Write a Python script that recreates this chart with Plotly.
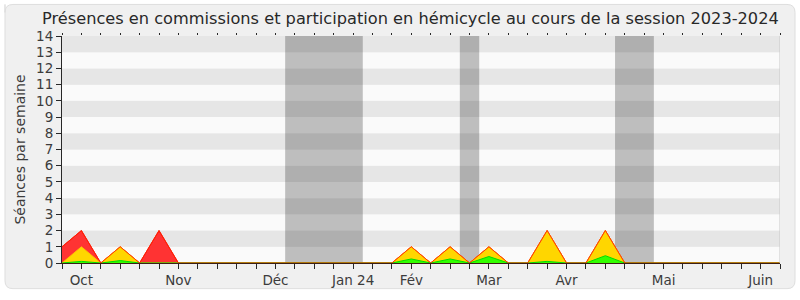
import plotly.graph_objects as go

# Weekly series, one value per week of the session (index 0 = last week of September 2023)
weeks = list(range(38))
commission = [1, 2, 0, 1, 0, 2, 0, 0, 0, 0, 0, 0, 0, 0, 0, 0, 0, 0, 1, 0,
              1, 0, 1, 0, 0, 2, 0, 0, 2, 0, 0, 0, 0, 0, 0, 0, 0, 0]
hemicycle = [0, 1, 0, 1, 0, 0, 0, 0, 0, 0, 0, 0, 0, 0, 0, 0, 0, 0, 1, 0,
             1, 0, 1, 0, 0, 2, 0, 0, 2, 0, 0, 0, 0, 0, 0, 0, 0, 0]
interventions = [0, 0.1, 0, 0.15, 0, 0, 0, 0, 0, 0, 0, 0, 0, 0, 0, 0, 0, 0, 0.25, 0,
                 0.25, 0, 0.4, 0, 0, 0.1, 0, 0, 0.45, 0, 0, 0, 0, 0, 0, 0, 0, 0]

# Month labels placed on the week they start
month_weeks = [1, 6, 11, 15, 18, 22, 26, 31, 36]
month_names = ["Oct", "Nov", "Déc", "Jan 24", "Fév", "Mar", "Avr", "Mai", "Juin"]

# Parliamentary recesses (week index ranges)
recesses = [(11.5, 15.5), (20.5, 21.5), (28.5, 30.5)]

y_max = 14
font_family = "DejaVu Sans, sans-serif"

fig = go.Figure()

fig.add_trace(go.Scatter(
    x=weeks, y=commission, mode="lines", fill="tozeroy",
    fillcolor="rgb(255,51,51)", line=dict(color="rgb(255,0,0)", width=1),
    hoverinfo="skip", showlegend=False))
fig.add_trace(go.Scatter(
    x=weeks, y=hemicycle, mode="lines", fill="tozeroy",
    fillcolor="rgb(255,214,0)", line=dict(color="rgb(255,190,0)", width=1),
    hoverinfo="skip", showlegend=False))
fig.add_trace(go.Scatter(
    x=weeks, y=interventions, mode="lines", fill="tozeroy",
    fillcolor="rgb(51,255,0)", line=dict(color="rgb(0,220,0)", width=1),
    hoverinfo="skip", showlegend=False))
# outline of the commission series drawn over the other fills
fig.add_trace(go.Scatter(
    x=weeks, y=commission, mode="lines",
    line=dict(color="rgba(255,40,0,0.85)", width=1),
    hoverinfo="skip", showlegend=False))

shapes = []
# rounded frame around the whole chart (paper coordinates extend past the plot area)
fx0, fx1, fy0, fy1 = -0.0794, 1.0209, -0.113, 1.139
rx, ry = 0.0111, 0.0348
shapes.append(dict(
    type="path", xref="paper", yref="paper", layer="below",
    path=(f"M {fx0},{fy1} L {fx0},{fy0 + ry} Q {fx0},{fy0} {fx0 + rx},{fy0} "
          f"L {fx1 - rx},{fy0} Q {fx1},{fy0} {fx1},{fy0 + ry} "
          f"L {fx1},{fy1 - ry} Q {fx1},{fy1} {fx1 - rx},{fy1} "
          f"L {fx0 + rx},{fy1} Q {fx0},{fy1} {fx0},{fy1 - ry} Z"),
    line=dict(color="rgb(222,222,222)", width=1), fillcolor="rgb(240,240,240)"))
# horizontal stripes
for k in range(y_max):
    shapes.append(dict(
        type="rect", xref="x", yref="y", layer="below",
        x0=0, x1=37, y0=k, y1=k + 1, line=dict(width=0),
        fillcolor="rgb(230,230,230)" if k % 2 == 1 else "rgb(250,250,250)"))
# recess bands
for a, b in recesses:
    shapes.append(dict(
        type="rect", xref="x", yref="y", layer="below",
        x0=a, x1=b, y0=0, y1=y_max, line=dict(width=0),
        fillcolor="rgba(0,0,0,0.24)"))
# right border of the plot area
shapes.append(dict(
    type="line", xref="x", yref="y", x0=37, x1=37, y0=0, y1=y_max,
    line=dict(color="rgb(200,200,200)", width=1)))

ticktext = []
for w in weeks:
    ticktext.append(month_names[month_weeks.index(w)] if w in month_weeks else "")

fig.update_layout(
    width=800, height=300,
    margin=dict(l=62, r=20, t=36, b=34),
    paper_bgcolor="white", plot_bgcolor="rgb(250,250,250)",
    font=dict(family=font_family, color="rgb(60,60,60)", size=13),
    title=dict(
        text="Présences en commissions et participation en hémicycle au cours de la session 2023-2024",
        x=0.513, xanchor="center", y=0.94, yanchor="middle",
        font=dict(size=16.2, color="rgb(40,40,40)", family=font_family)),
    shapes=shapes,
    xaxis=dict(
        range=[0, 37], tickmode="array", tickvals=weeks, ticktext=ticktext,
        ticks="outside", ticklen=5, tickcolor="rgb(40,40,40)", tickwidth=1,
        showline=True, linecolor="rgb(60,30,20)", linewidth=1,
        showgrid=False, zeroline=False, fixedrange=True,
        tickfont=dict(size=13.5, color="rgb(60,60,60)")),
    yaxis=dict(
        range=[0, y_max], tickmode="linear", tick0=0, dtick=1,
        ticks="outside", ticklen=5, tickcolor="rgb(40,40,40)", tickwidth=1,
        showline=True, linecolor="rgb(40,40,40)", linewidth=1,
        showgrid=False, zeroline=False, fixedrange=True,
        title=dict(text="Séances par semaine", standoff=7,
                   font=dict(size=14, color="rgb(60,60,60)")),
        tickfont=dict(size=13.5, color="rgb(60,60,60)")),
)

# small tick marks along the top edge
fig.update_layout(xaxis2=dict(
    overlaying="x", side="top", range=[0, 37], tickmode="array", tickvals=weeks,
    ticktext=[""] * len(weeks), ticks="outside", ticklen=2,
    tickcolor="rgb(40,40,40)", showgrid=False, zeroline=False, showline=False,
    fixedrange=True))
fig.add_trace(go.Scatter(x=[0], y=[0], xaxis="x2", mode="markers",
                         marker=dict(opacity=0), hoverinfo="skip", showlegend=False))

fig.write_html("out.html")
